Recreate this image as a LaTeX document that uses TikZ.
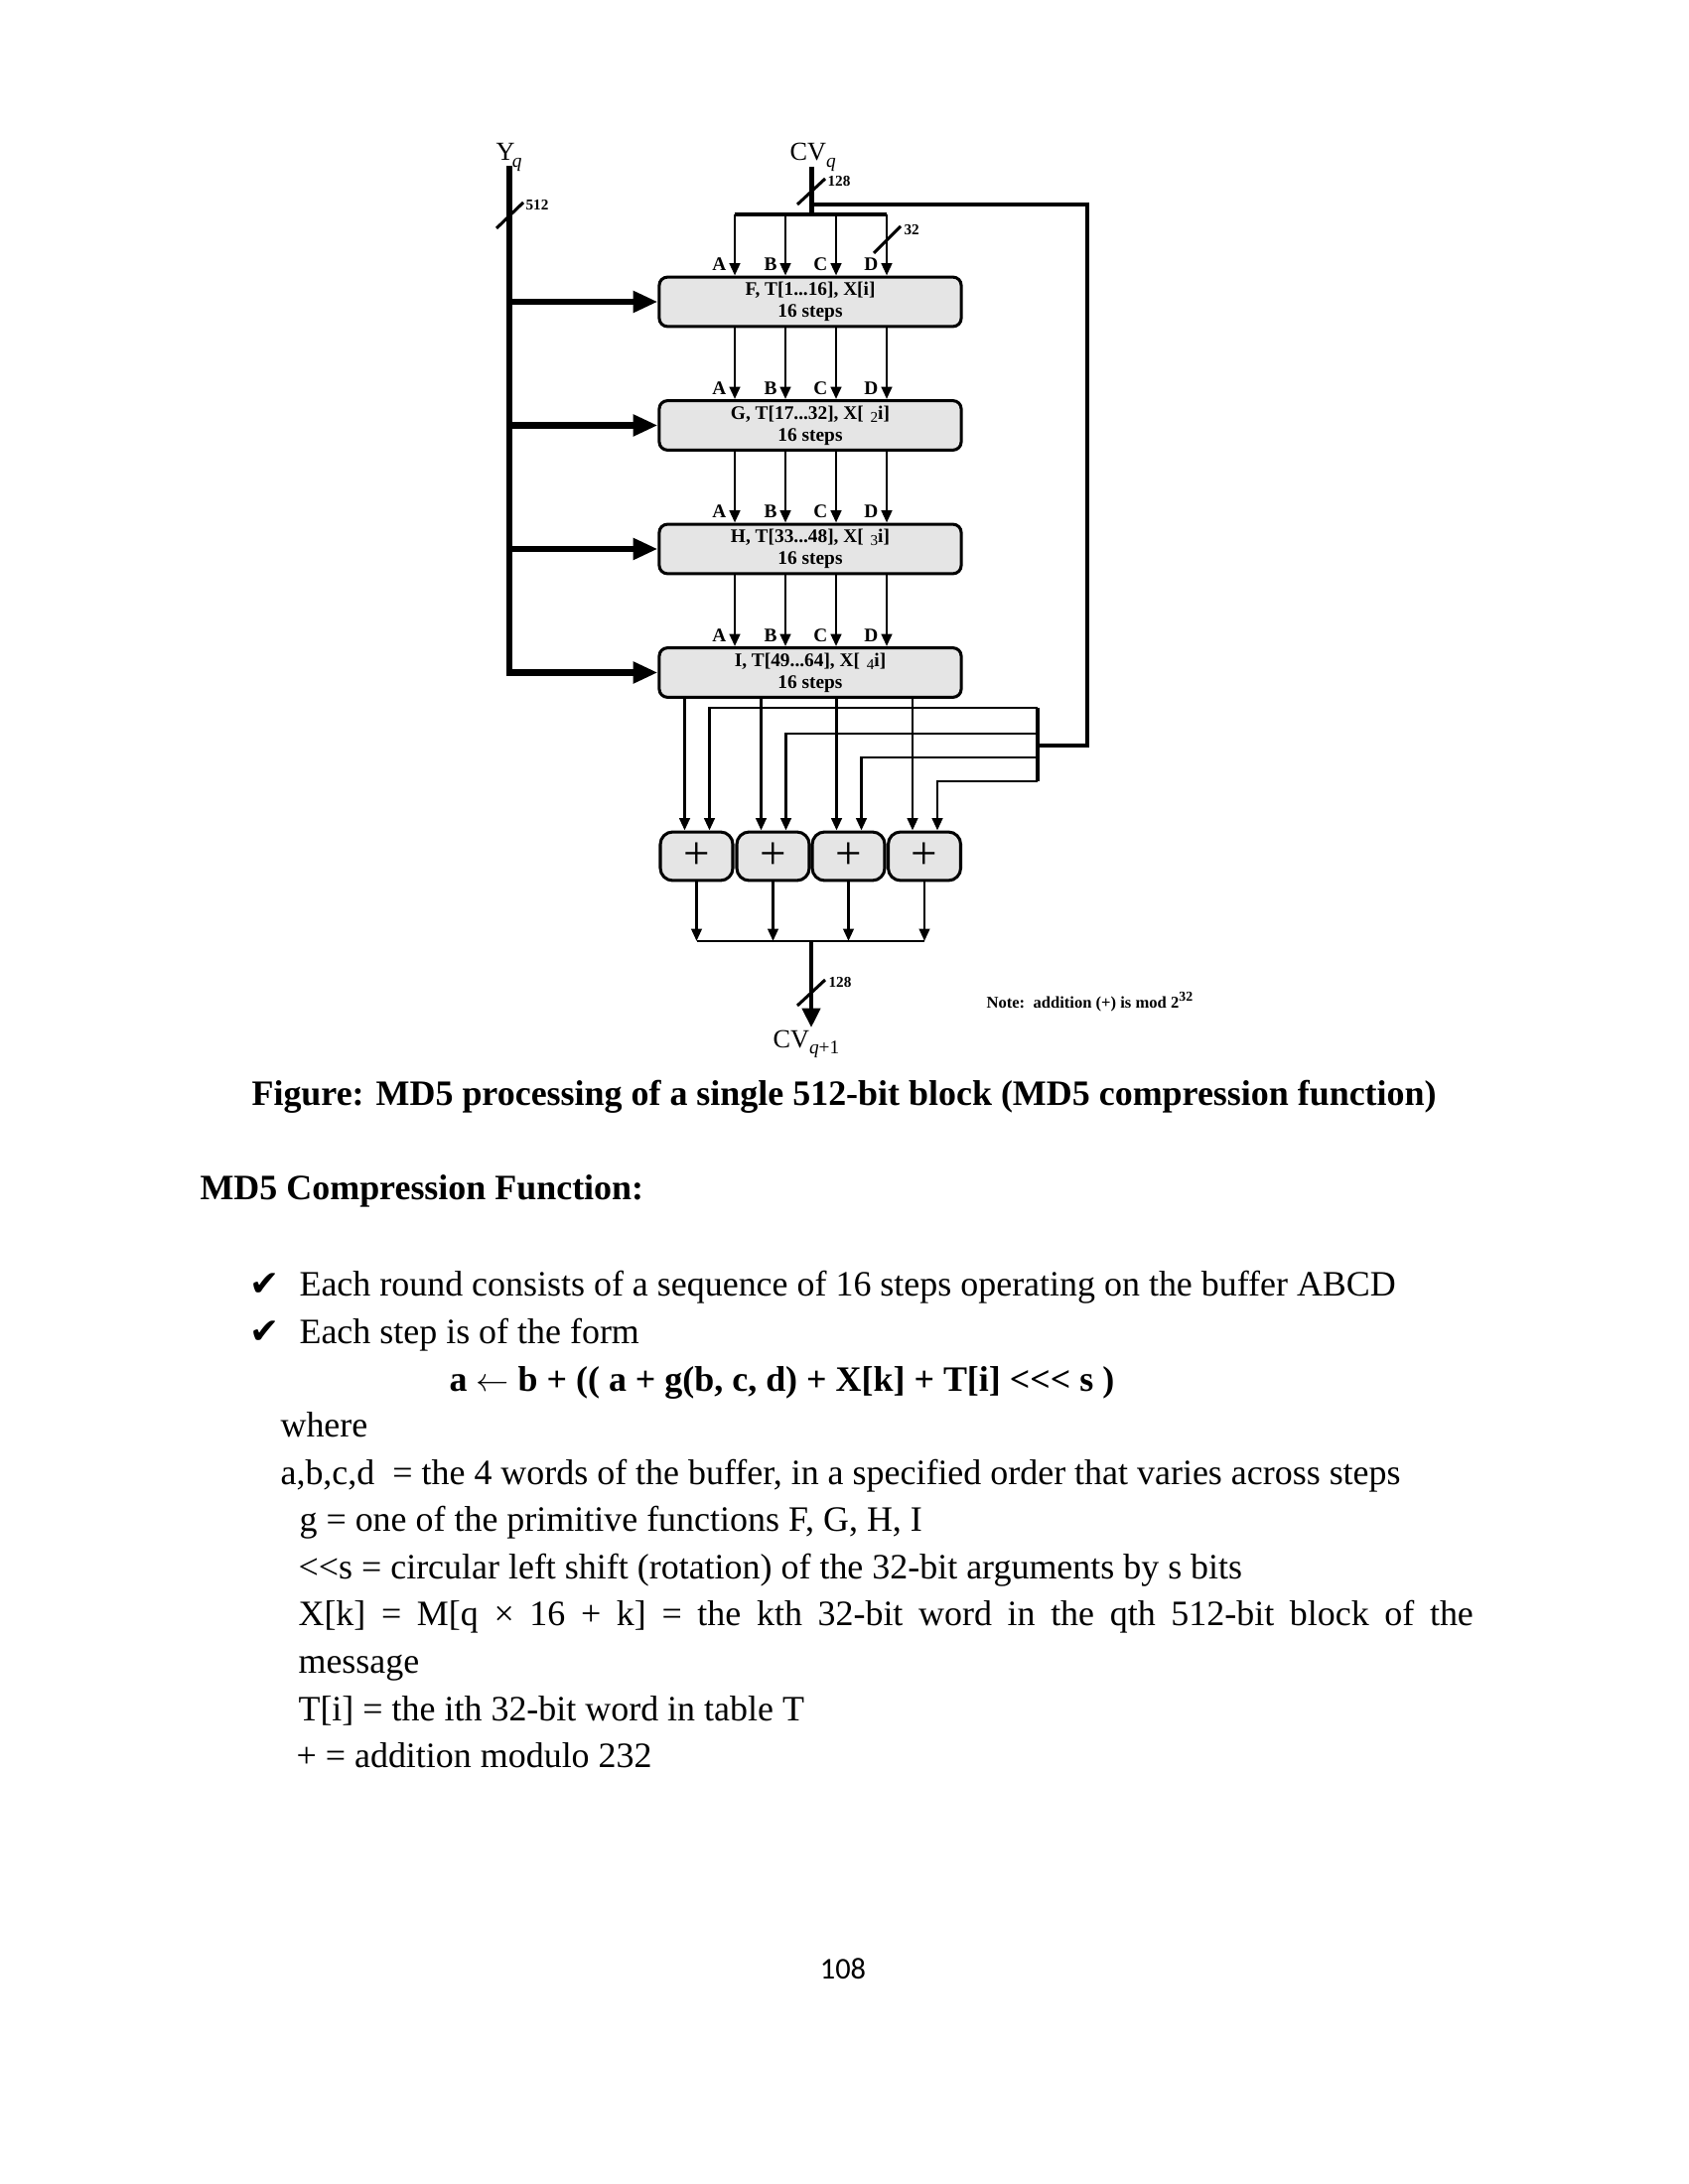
\documentclass[tikz,border=0pt]{standalone}
\usepackage{fontspec}
\setmainfont{Liberation Serif}
\newfontfamily\tickfont{DejaVu Sans}
\newfontfamily\footfont{Carlito}
\usetikzlibrary{arrows.meta, positioning, calc}

\newcommand{\rnd}[1]{\hspace{0.35em}\raisebox{-0.35ex}{\fontsize{5.5}{5.5}\selectfont\mdseries #1}}
\newcommand{\sbq}[1]{\raisebox{-0.55ex}{\fontsize{7}{7}\selectfont\itshape #1}}
\newcommand{\lt}{\mbox{<}\kern0pt}

\begin{document}
\begin{tikzpicture}[x=0.005in, y=-0.005in,
    round/.style={draw, line width=1.1pt, rounded corners=3pt, fill=gray!20,
                  minimum width=110pt, minimum height=18pt, inner sep=0pt,
                  align=center, font=\fontsize{7}{8}\selectfont\bfseries},
    adder/.style={draw, line width=1.1pt, rounded corners=4.5pt, fill=gray!20,
                  minimum width=26.4pt, minimum height=17.7pt, inner sep=0pt,
                  font=\fontsize{17}{17}\selectfont},
    wire/.style={line width=1pt, -{Triangle[length=4.5pt,width=3.8pt]}},
    msg/.style={line width=2.3pt, -{Triangle[length=9pt,width=7.5pt]}},
    bus/.style={line width=1.5pt},
    slash/.style={line width=1.1pt},
    bits/.style={font=\fontsize{5.5}{6}\selectfont\bfseries, inner sep=0pt, anchor=west},
    letter/.style={font=\fontsize{7}{7}\selectfont\bfseries, inner sep=0pt, anchor=east},
    varlab/.style={font=\fontsize{9.5}{9.5}\selectfont, inner sep=0pt, anchor=base west},
    body/.style={font=\fontsize{13}{15}\selectfont, inner sep=0pt, anchor=base west}
]
\path[fill=white, use as bounding box] (0,0) rectangle (1700,2200);

% the four rounds
\node[round] (r1) at (816,304) {F, T[1...16], X[i]\\16 steps};
\node[round] (r2) at (816,428.5) {G, T[17...32], X[\rnd{2}i]\\16 steps};
\node[round] (r3) at (816,553) {H, T[33...48], X[\rnd{3}i]\\16 steps};
\node[round] (r4) at (816,677.5) {I, T[49...64], X[\rnd{4}i]\\16 steps};

% adders
\node[adder] (a1) at (701.5,862.5) {+};
\node[adder] (a2) at (778.5,862.5) {+};
\node[adder] (a3) at (854.5,862.5) {+};
\node[adder] (a4) at (931,862.5) {+};

% message block Y_q
\node[varlab] (yq) at (499,162) {Y\kern-1pt\sbq{q}};
\coordinate (ytop) at (513,167);
\draw[msg] (ytop) |- (r4.west);
\foreach \i in {1,2,3}
    \draw[msg] (ytop |- r\i.west) -- (r\i.west);
\draw[slash] ($(ytop)+(-13,63)$) -- ++(27,-26);
\node[bits] (w512) at (529,207) {512};

% chaining variable CV_q
\node[varlab] (cvq) at (795,162) {CV\sbq{q}};
\coordinate (cvtop) at (817,168);
\coordinate (split) at (817,217);
\draw[line width=1.8pt] (cvtop) -- (split);
\draw[slash] (803,206) -- (831,180);
\node[bits] (w128) at (833,183) {128};
\draw[bus] ($(r1.north)+(-76,-62)$) -- ($(r1.north)+(77,-62)$);
\foreach \dx/\l in {-76/A,-25/B,26/C,77/D} {
    \draw[wire] ($(r1.north)+(\dx,-62)$) -- ($(r1.north)+(\dx,0)$);
    \node[letter] (r1\l) at ($(r1.north)+(\dx-8,-11)$) {\l};
}
\draw[slash] (880,255) -- (907,228);
\node[bits] (w32) at (910,232) {32};

\foreach \a/\b in {r1/r2,r2/r3,r3/r4}
    \foreach \dx/\l in {-76/A,-25/B,26/C,77/D} {
        \draw[wire] ($(\a.south)+(\dx,0)$) -- ($(\b.north)+(\dx,0)$);
        \node[letter] (\b\l) at ($(\b.north)+(\dx-8,-11)$) {\l};
    }

% feedback of CV_q to the adders
\coordinate (fb) at (817,206);
\coordinate (fbin) at (1045,751);
\coordinate (sum) at (817,948);
\draw[line width=1.2pt] (fb) -| (1095,751) -- (fbin);
\draw[line width=1.2pt] (1045,713) -- (1045,787);
\foreach \k/\y in {1/713,2/739,3/763,4/787} {
    \coordinate (fb\k) at ($(a\k.north)+(13,0)$);
    \coordinate (rd\k) at ($(a\k.north)+(-12,0)$);
    \draw[wire] (1045,\y) -| (fb\k);
    \draw[wire] (rd\k |- r4.south) -- (rd\k);
    \draw[wire, line width=0.9pt] (a\k.south) -- (a\k.south |- sum);
}

% output CV_{q+1}
\coordinate (out) at (817,1035);
\draw[line width=0.9pt] (a1.south |- sum) -- (a4.south |- sum);
\draw[line width=1.5pt, -{Triangle[length=7pt,width=6.5pt]}] (sum) -- (out);
\draw[slash] (803,1013) -- (831,987);
\node[bits] (w128b) at (834,990) {128};
\node[varlab] (cvq1) at (778,1055) {CV\sbq{q\upshape+1}};
\node[anchor=west, inner sep=0pt, font=\fontsize{6}{6}\selectfont\bfseries] (note)
    at (993,1009) {Note:\ \ addition (+) is mod 2\textsuperscript{32}};

% text of the page
\node[body, font=\fontsize{13}{15}\selectfont\bfseries] (caption) at (253,1113)
    {Figure: MD5 processing of a single 512-bit block (MD5 compression function)};
\node[body, font=\fontsize{13}{15}\selectfont\bfseries] (head) at (201,1208)
    {MD5 Compression Function:};
\node[body, font=\fontsize{13}{15}\tickfont] (tick1) at (251,1305) {✔};
\node[body] (item1) at (301,1305)
    {Each round consists of a sequence of 16 steps operating on the buffer ABCD};
\node[body, font=\fontsize{13}{15}\tickfont] (tick2) at (251,1353) {✔};
\node[body] (item2) at (301,1353) {Each step is of the form};
\node[body, font=\fontsize{13}{15}\selectfont\bfseries] (formula) at (452,1401)
    {a $\leftarrow$ b + (( a + g(b, c, d) + X[k] + T[i] \lt\lt\lt\ s )};
\node[body] (where) at (282,1447) {where};
\node[body] (abcd) at (282,1495)
    {a,b,c,d \ = the 4 words of the buffer, in a specified order that varies across steps};
\node[body] (gfun) at (301,1542) {g = one of the primitive functions F, G, H, I};
\node[body] (shift) at (300,1590)
    {\lt\lt s = circular left shift (rotation) of the 32-bit arguments by s bits};
\node[body] (xk) at (300,1637)
    {\makebox[428pt][s]{X[k] = M[q × 16 + k] = the kth 32-bit word in the qth 512-bit block of the}};
\node[body] (msgw) at (300,1685) {message};
\node[body] (ti) at (300,1733) {T[i] = the ith 32-bit word in table T};
\node[body] (plus) at (298,1780) {+ = addition modulo 232};
\node[anchor=base, inner sep=0pt, font=\fontsize{11}{11}\footfont] (page) at (849,1993) {108};
\end{tikzpicture}
\end{document}
